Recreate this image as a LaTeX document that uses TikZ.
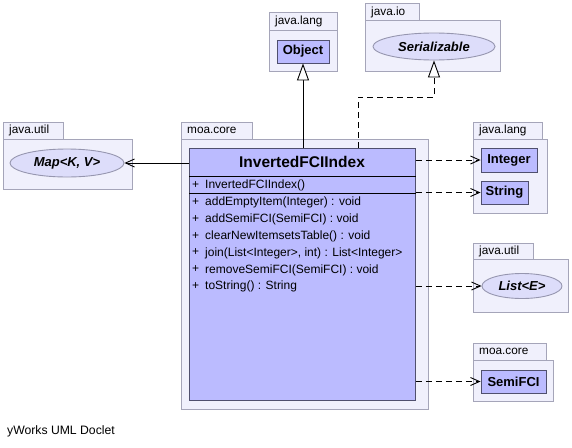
\documentclass[tikz,border=0pt]{standalone}
\usepackage{fontspec}
\setmainfont{Liberation Sans}
\usetikzlibrary{arrows.meta,shapes.geometric}

\definecolor{pkgfill}{RGB}{240,240,252}
\definecolor{pkgline}{RGB}{165,165,185}
\definecolor{classfill}{RGB}{187,187,255}
\definecolor{classline}{RGB}{80,80,110}
\definecolor{ellfill}{RGB}{221,221,250}
\definecolor{ellline}{RGB}{150,150,175}

\tikzset{
  pkg/.style={draw=pkgline, fill=pkgfill, line width=0.9pt},
  pkglabel/.style={anchor=west, inner sep=0pt, font=\fontsize{11.8}{13}\selectfont},
  classbox/.style={draw=classline, fill=classfill, line width=0.9pt, inner sep=0pt,
    font=\bfseries\fontsize{13}{15}\selectfont},
  ifacebox/.style={ellipse, draw=ellline, fill=ellfill, line width=0.9pt, inner sep=0pt,
    font=\bfseries\itshape\fontsize{13}{15}\selectfont},
  member/.style={anchor=west, inner sep=0pt, font=\fontsize{12}{13}\selectfont},
  inherit/.style={line width=0.9pt, -{Triangle[open,length=17pt,width=12pt,fill=white]}},
  dep/.style={line width=0.9pt, dash pattern=on 6pt off 4pt, -{Straight Barb[length=9pt,width=8pt]}},
  assoc/.style={line width=0.9pt, -{Straight Barb[length=9pt,width=8pt]}},
}

\begin{document}
\begin{tikzpicture}[x=1pt,y=-1pt]
  \fill[white] (0,0) rectangle (572,447);
  \useasboundingbox (0,0) rectangle (572,447);

  % packages
  \draw[pkg] (269,12) rectangle (337,30);
  \draw[pkg] (269,30) rectangle (337,71);
  \node[pkglabel] (lang1) at (275,21) {java.lang};

  \draw[pkg] (365,3) rectangle (419,20);
  \draw[pkg] (365,20) rectangle (500,71);
  \node[pkglabel] (io) at (371,12) {java.io};

  \draw[pkg] (3,122) rectangle (63,139);
  \draw[pkg] (3,139) rectangle (132,189);
  \node[pkglabel] (util1) at (9,130.5) {java.util};

  \draw[pkg] (181,122) rectangle (252,139);
  \draw[pkg] (181,139) rectangle (428,409);
  \node[pkglabel] (core1) at (187,130.5) {moa.core};

  \draw[pkg] (473,122) rectangle (542,139);
  \draw[pkg] (473,139) rectangle (547,213);
  \node[pkglabel] (lang2) at (479,130.5) {java.lang};

  \draw[pkg] (473,243) rectangle (533,259);
  \draw[pkg] (473,259) rectangle (568,312);
  \node[pkglabel] (util2) at (479,251) {java.util};

  \draw[pkg] (473,343) rectangle (546,360);
  \draw[pkg] (473,360) rectangle (553,401);
  \node[pkglabel] (core2) at (479,351.5) {moa.core};

  % classes and interfaces
  \node[classbox, minimum width=52pt, minimum height=23pt] (obj) at (303,51.5) {Object};
  \node[ifacebox, minimum width=122pt, minimum height=27pt] (ser) at (434,46.5) {Serializable};
  \node[ifacebox, minimum width=114pt, minimum height=28pt] (map) at (67,163) {Map<K, V>};
  \node[classbox, minimum width=56pt, minimum height=24pt] (int) at (509,160) {Integer};
  \node[classbox, minimum width=47pt, minimum height=23pt] (str) at (504.5,192.5) {String};
  \node[ifacebox, minimum width=80pt, minimum height=25pt] (list) at (522,286) {List<E>};
  \node[classbox, minimum width=65pt, minimum height=23pt] (semi) at (513.5,381.5) {SemiFCI};

  % main class
  \node[classbox, minimum width=226pt, minimum height=252pt, anchor=north west] (main) at (189,148) {};
  \node[font=\bfseries\fontsize{15.5}{17}\selectfont, inner sep=0pt] (title) at (302,162) {InvertedFCIIndex};
  \draw[line width=0.9pt] (main.west |- 0,176) -- (main.east |- 0,176);
  \draw[line width=0.9pt] (main.west |- 0,193) -- (main.east |- 0,193);
  \node[member] (p0) at (192,185) {+};
  \node[member] (m0) at (205,185.5) {InvertedFCIIndex()};
  \node[member] (p1) at (192,202) {+};
  \node[member] (m1) at (205,202.5) {addEmptyItem(Integer) : void};
  \node[member] (p2) at (192,219) {+};
  \node[member] (m2) at (205,219.5) {addSemiFCI(SemiFCI) : void};
  \node[member] (p3) at (192,236) {+};
  \node[member] (m3) at (205,236.5) {clearNewItemsetsTable() : void};
  \node[member] (p4) at (192,252.5) {+};
  \node[member] (m4) at (205,253) {join(List<Integer>, int) : List<Integer>};
  \node[member] (p5) at (192,269.5) {+};
  \node[member] (m5) at (205,270) {removeSemiFCI(SemiFCI) : void};
  \node[member] (p6) at (192,286) {+};
  \node[member] (m6) at (205,286.5) {toString() : String};

  % connectors
  \draw[inherit] (main.north -| obj.south) -- (obj.south);
  \coordinate (bend) at (358,97);
  \draw[inherit, dash pattern=on 6pt off 4pt] (main.north -| bend) -- (bend) -| (ser.south);
  \draw[assoc] (main.west |- map.east) -- (map.east);
  \draw[dep] (main.east |- int.west) -- (int.west);
  \draw[dep] (main.east |- str.west) -- (str.west);
  \draw[dep] (main.east |- list.west) -- (list.west);
  \draw[dep] (main.east |- semi.west) -- (semi.west);

  \node[anchor=west, inner sep=0pt, font=\fontsize{12.2}{13}\selectfont] (doclet) at (7,431) {yWorks UML Doclet};
\end{tikzpicture}
\end{document}
